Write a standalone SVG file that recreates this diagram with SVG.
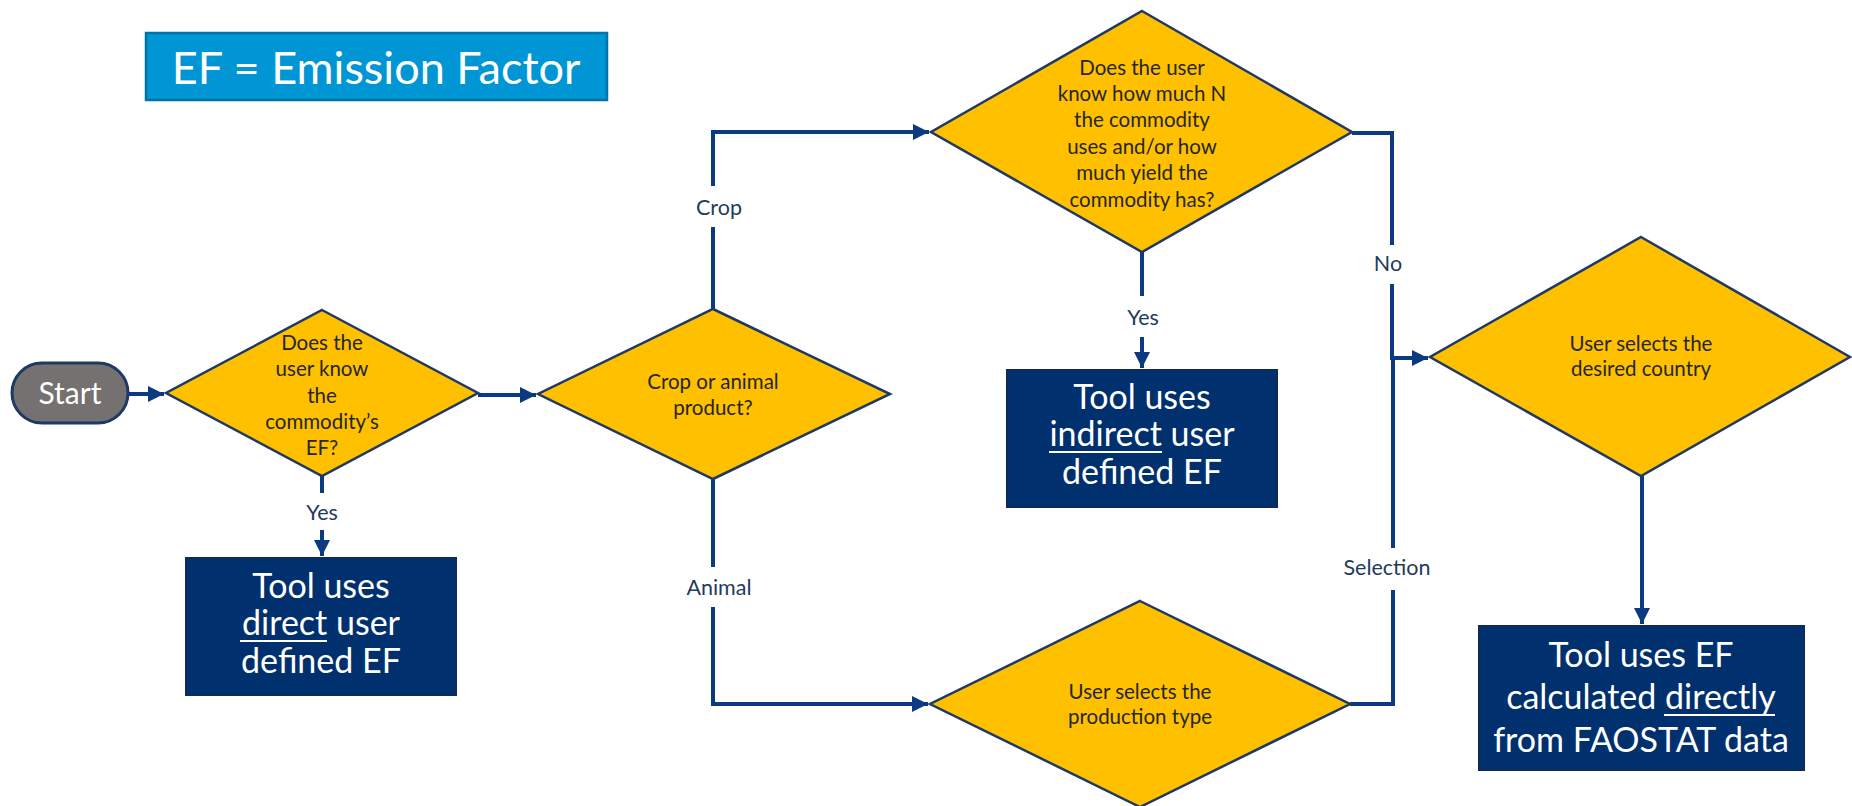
<svg xmlns="http://www.w3.org/2000/svg" width="1852" height="806" viewBox="0 0 1852 806">
<defs>
<marker id="arr" viewBox="0 0 10 10" refX="10" refY="5" markerWidth="4" markerHeight="4" markerUnits="strokeWidth" orient="auto">
<path d="M0,0 L10,5 L0,10 z" fill="#0B3A82"/>
</marker>
<style>
.dia{fill:#FFC000;stroke:#1F3864;stroke-width:2.5}
.box{fill:#00306E;stroke:#0D2A5C;stroke-width:2}
.dt{font-family:Lato,"Liberation Sans",sans-serif;font-size:20.5px;fill:#262626;text-anchor:middle}
.bt{font-family:Lato,"Liberation Sans",sans-serif;font-size:34px;fill:#FFFFFF;text-anchor:middle}
.lb{font-family:Lato,"Liberation Sans",sans-serif;font-size:21.5px;fill:#1F3B5C;text-anchor:middle}
.cn{fill:none;stroke:#0B3A82;stroke-width:4}
.ul{stroke:#FFFFFF;stroke-width:2}
</style>
</defs>
<rect width="1852" height="806" fill="#FFFFFF"/>

<g id="legend">
<rect x="146" y="33" width="461" height="67" fill="#0096D6" stroke="#0073A8" stroke-width="2.5"/>
<text x="376" y="84" font-family="Lato,'Liberation Sans',sans-serif" font-size="45" fill="#FFFFFF" text-anchor="middle">EF = Emission Factor</text>
</g>

<g id="connectors">
<path class="cn" d="M128,394 L164,394" marker-end="url(#arr)"/>
<path class="cn" d="M478,395 L536,395" marker-end="url(#arr)"/>
<path class="cn" d="M322,476 L322,493"/>
<path class="cn" d="M322,530 L322,556" marker-end="url(#arr)"/>
<path class="cn" d="M713,309 L713,227"/>
<path class="cn" d="M713,186 L713,132 L929,132" marker-end="url(#arr)"/>
<path class="cn" d="M713,479 L713,567"/>
<path class="cn" d="M713,607 L713,704 L928,704" marker-end="url(#arr)"/>
<path class="cn" d="M1142,252 L1142,296"/>
<path class="cn" d="M1142,337 L1142,368" marker-end="url(#arr)"/>
<path class="cn" d="M1352,133 L1392,133 L1392,245"/>
<path class="cn" d="M1392,284 L1392,358 L1428,358" marker-end="url(#arr)"/>
<path class="cn" d="M1350,704 L1393,704 L1393,590"/>
<path class="cn" d="M1393,548 L1393,358"/>
<path class="cn" d="M1642,476 L1642,624" marker-end="url(#arr)"/>
<text class="lb" x="322" y="520">Yes</text>
<text class="lb" x="719" y="215">Crop</text>
<text class="lb" x="719" y="595">Animal</text>
<text class="lb" x="1143" y="325">Yes</text>
<text class="lb" x="1388" y="271">No</text>
<text class="lb" x="1387" y="575">Selection</text>
</g>

<g id="start">
<rect x="12" y="363" width="116" height="60" rx="30" ry="30" fill="#767171" stroke="#1F3864" stroke-width="3"/>
<text x="70" y="404" font-family="Lato,'Liberation Sans',sans-serif" font-size="30" fill="#FFFFFF" text-anchor="middle">Start</text>
</g>

<g id="q-know-ef">
<polygon class="dia" points="322,310 478,393 322,476 166,393"/>
<text class="dt" x="322" y="350">Does the</text>
<text class="dt" x="322" y="376">user know</text>
<text class="dt" x="322" y="403">the</text>
<text class="dt" x="322" y="429">commodity’s</text>
<text class="dt" x="322" y="455">EF?</text>
</g>

<g id="direct-ef">
<rect class="box" x="186" y="558" width="270" height="137"/>
<text class="bt" x="321" y="598">Tool uses</text>
<text class="bt" x="321" y="635">direct user</text>
<line class="ul" x1="240" y1="641" x2="327" y2="641"/>
<text class="bt" x="321" y="673">defined EF</text>
</g>

<g id="q-crop-animal">
<polygon class="dia" points="713,309 890,394 713,479 538,394"/>
<text class="dt" x="713" y="389">Crop or animal</text>
<text class="dt" x="713" y="415">product?</text>
</g>

<g id="q-know-n">
<polygon class="dia" points="1142,11 1352,132 1142,252 931,132"/>
<text class="dt" x="1142" y="75">Does the user</text>
<text class="dt" x="1142" y="101">know how much N</text>
<text class="dt" x="1142" y="127">the commodity</text>
<text class="dt" x="1142" y="154">uses and/or how</text>
<text class="dt" x="1142" y="180">much yield the</text>
<text class="dt" x="1142" y="207">commodity has?</text>
</g>

<g id="indirect-ef">
<rect class="box" x="1007" y="370" width="270" height="137"/>
<text class="bt" x="1142" y="409">Tool uses</text>
<text class="bt" x="1142" y="446">indirect user</text>
<line class="ul" x1="1049" y1="452" x2="1162" y2="452"/>
<text class="bt" x="1142" y="484">defined EF</text>
</g>

<g id="q-production-type">
<polygon class="dia" points="1140,601 1350,704 1140,807 930,704"/>
<text class="dt" x="1140" y="699">User selects the</text>
<text class="dt" x="1140" y="724">production type</text>
</g>

<g id="q-country">
<polygon class="dia" points="1641,237 1850,357 1641,476 1430,357"/>
<text class="dt" x="1641" y="351">User selects the</text>
<text class="dt" x="1641" y="376">desired country</text>
</g>

<g id="faostat-ef">
<rect class="box" x="1479" y="626" width="325" height="144"/>
<text class="bt" x="1641" y="667">Tool uses EF</text>
<text class="bt" x="1641" y="709">calculated directly</text>
<line class="ul" x1="1664" y1="715" x2="1775" y2="715"/>
<text class="bt" x="1641" y="752">from FAOSTAT data</text>
</g>
</svg>
